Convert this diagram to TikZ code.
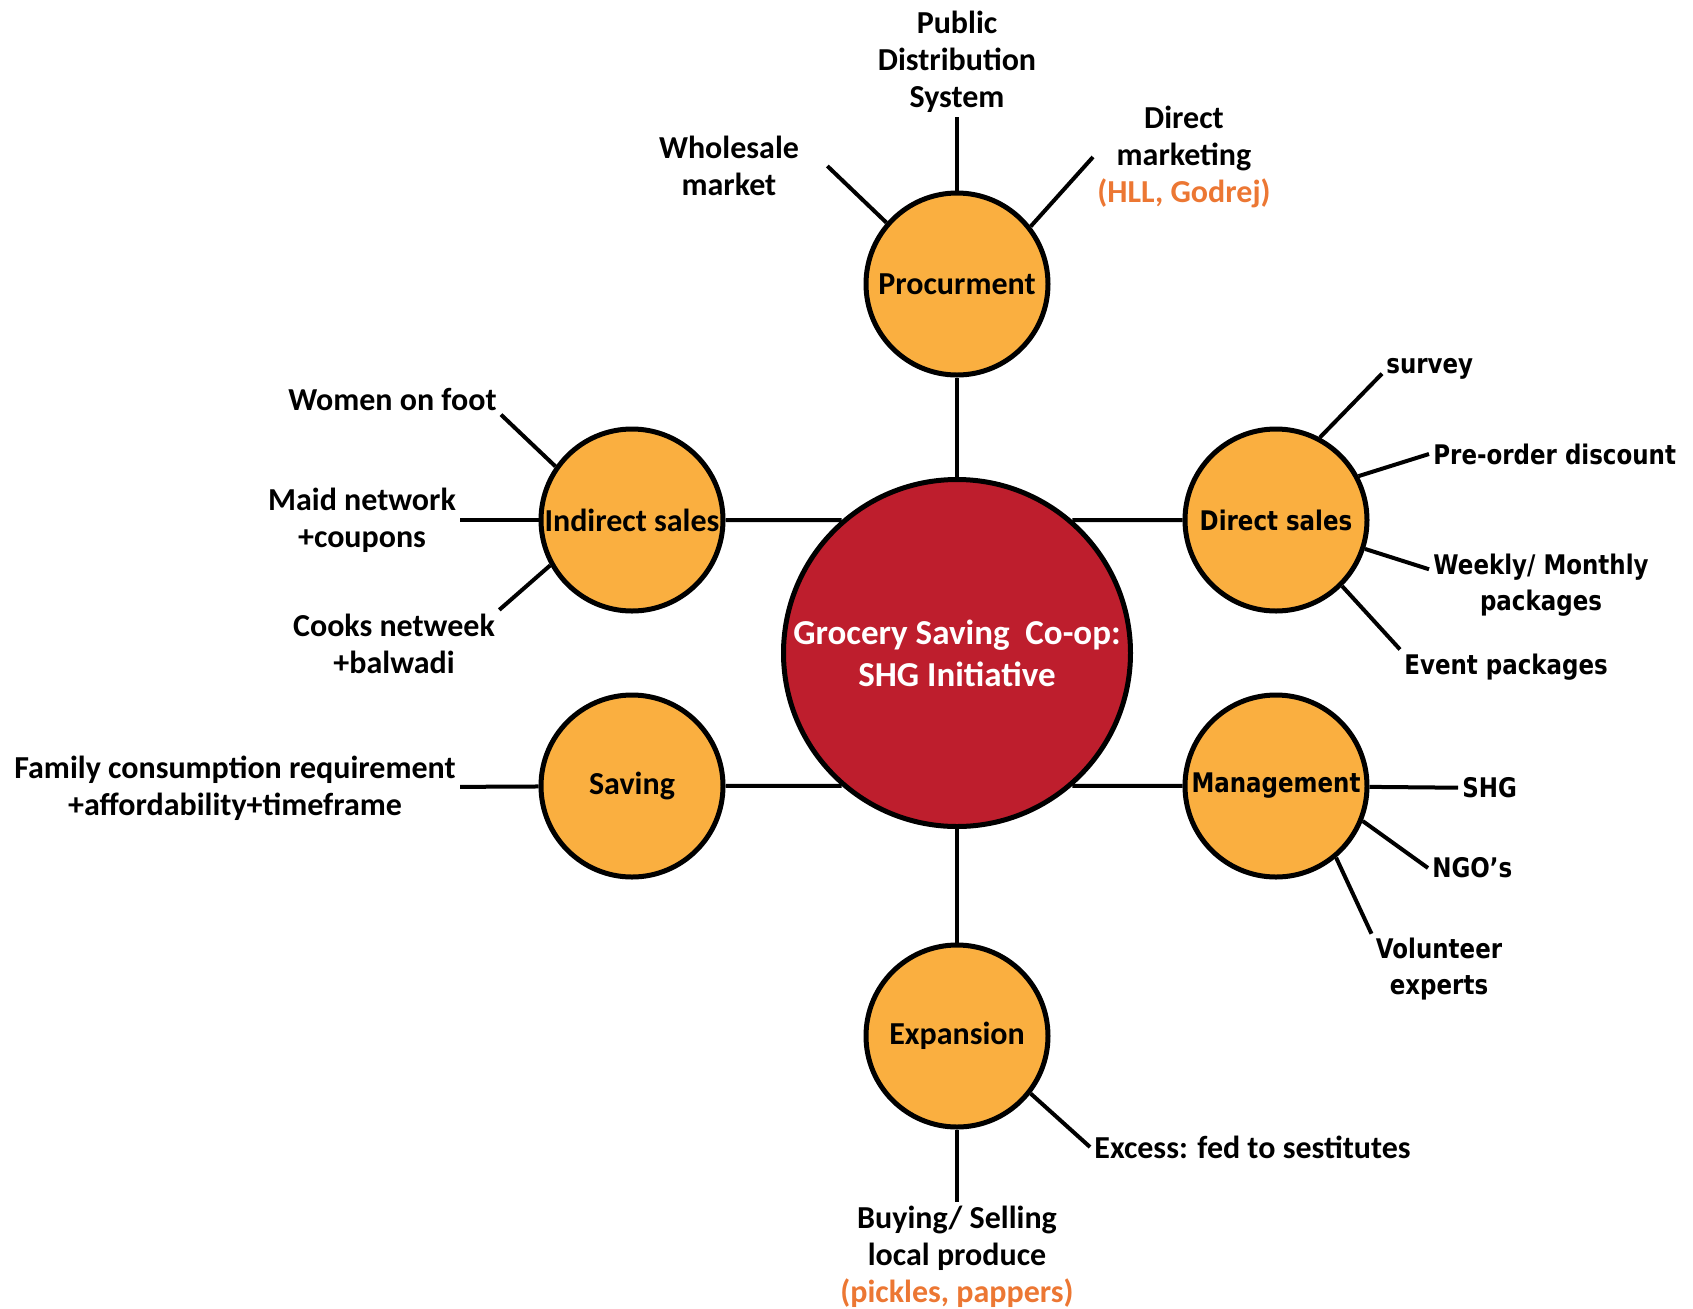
\documentclass[tikz,border=0pt]{standalone}
\usepackage{fontspec}
\usepackage{xcolor}
\usepackage{tikz}
\setmainfont{Carlito}
\newfontfamily\tahfont[FakeStretch=0.85]{DejaVu Sans}
\definecolor{satfill}{RGB}{250,175,64}
\definecolor{hubred}{RGB}{190,30,45}
\definecolor{notecol}{RGB}{236,119,51}
\tikzset{
  hub/.style={circle, draw, line width=2.5pt, fill=hubred, minimum size=173.5pt, inner sep=0pt,
    text=white, align=center, font=\bfseries\fontsize{17.5}{21}\selectfont},
  topic/.style={circle, draw, line width=2.5pt, fill=satfill, minimum size=91pt, inner sep=0pt,
    font=\bfseries\fontsize{16}{18.4}\selectfont},
  ttopic/.style={topic, font=\tahfont\bfseries\fontsize{13.5}{17.8}\selectfont},
  leaf/.style={inner sep=2pt, align=center, font=\bfseries\fontsize{16}{18.4}\selectfont},
  tleaf/.style={leaf, font=\tahfont\bfseries\fontsize{13.5}{17.8}\selectfont},
  spoke/.style={line width=2pt}
}
\newcommand{\topic}[4][topic]{\node [#1] (#2) at (#3) {#4}}
\newcommand{\leaf}[4][]{\node [leaf, #1] (#2) at (#3) {#4}}

\begin{document}
\begin{tikzpicture}[x=0.5pt, y=-0.5pt]
\useasboundingbox (0,0) rectangle (1693,1308);

\node [hub] (HUB) at (957,653) {Grocery Saving\ \ Co-op:\\SHG Initiative};

\topic{PROC}{957,284}{Procurment};
\topic{IND}{632,520}{Indirect sales};
\topic[ttopic]{DIR}{1276,520}{Direct sales};
\topic{SAV}{632,786}{Saving};
\topic[ttopic]{MAN}{1276,786}{Management};
\topic{EXP}{957,1036}{Expansion};

\leaf[inner xsep=14pt]{WHOL}{729,166}{Wholesale\\market};
\leaf{PDS}{957,62}{Public\\Distribution\\System};
\leaf{DMKT}{1184,157}{Direct\\marketing\\\textcolor{notecol}{(HLL, Godrej)}};

\leaf[anchor=east]{WOMN}{501,399}{Women on foot};
\leaf{MAID}{362,520}{Maid network\\+coupons};
\leaf{COOK}{394,644}{Cooks netweek\\+balwadi};

\leaf{FAM}{235,788}{Family consumption requirement\\+affordability+timeframe};

\leaf[tleaf, anchor=west]{SURV}{1382,369}{survey};
\leaf[tleaf, anchor=west]{PRE}{1429,454}{Pre-order discount};
\leaf[tleaf]{WEEK}{1541,585}{Weekly/ Monthly\\packages};
\leaf[tleaf, anchor=west]{EVT}{1400,667}{Event packages};

\leaf[tleaf, anchor=west]{SHGL}{1458,788}{SHG};
\leaf[tleaf, anchor=west]{NGO}{1428,868}{NGO’s};
\leaf[tleaf]{VOL}{1439,969}{Volunteer\\experts};

\leaf[anchor=west]{EXC}{1090,1147}{Excess: fed to sestitutes};
\leaf{BUY}{957,1257}{Buying/ Selling\\local produce\\\textcolor{notecol}{(pickles, pappers)}};

\draw [spoke] (HUB) -- (PROC);
\draw [spoke] (HUB) -- (EXP);
\draw [spoke] (HUB.131) -- (IND);
\draw [spoke] (HUB.49) -- (DIR);
\draw [spoke] (HUB.229) -- (SAV);
\draw [spoke] (HUB.311) -- (MAN);

\draw [spoke] (PROC.139) -- (WHOL.east);
\draw [spoke] (PROC) -- (PDS);
\draw [spoke] (PROC.38) -- (DMKT.west);

\draw [spoke] (IND.145) -- (WOMN.south east);
\draw [spoke] (IND) -- (MAID);
\draw [spoke] (IND.209) -- (COOK.north east);

\draw [spoke] (SAV) -- (FAM);

\draw [spoke] (DIR.62) -- (SURV.base west);
\draw [spoke] (DIR.28) -- (PRE.west);
\draw [spoke] (DIR.-18) -- (WEEK.172);
\draw [spoke] (DIR.-45) -- (EVT.north west);

\draw [spoke] (MAN) -- (SHGL);
\draw [spoke] (MAN.-22) -- (NGO.west);
\draw [spoke] (MAN.-50) -- (VOL.north west);

\draw [spoke] (EXP.-38) -- (EXC.west);
\draw [spoke] (EXP) -- (BUY);

\end{tikzpicture}
\end{document}
